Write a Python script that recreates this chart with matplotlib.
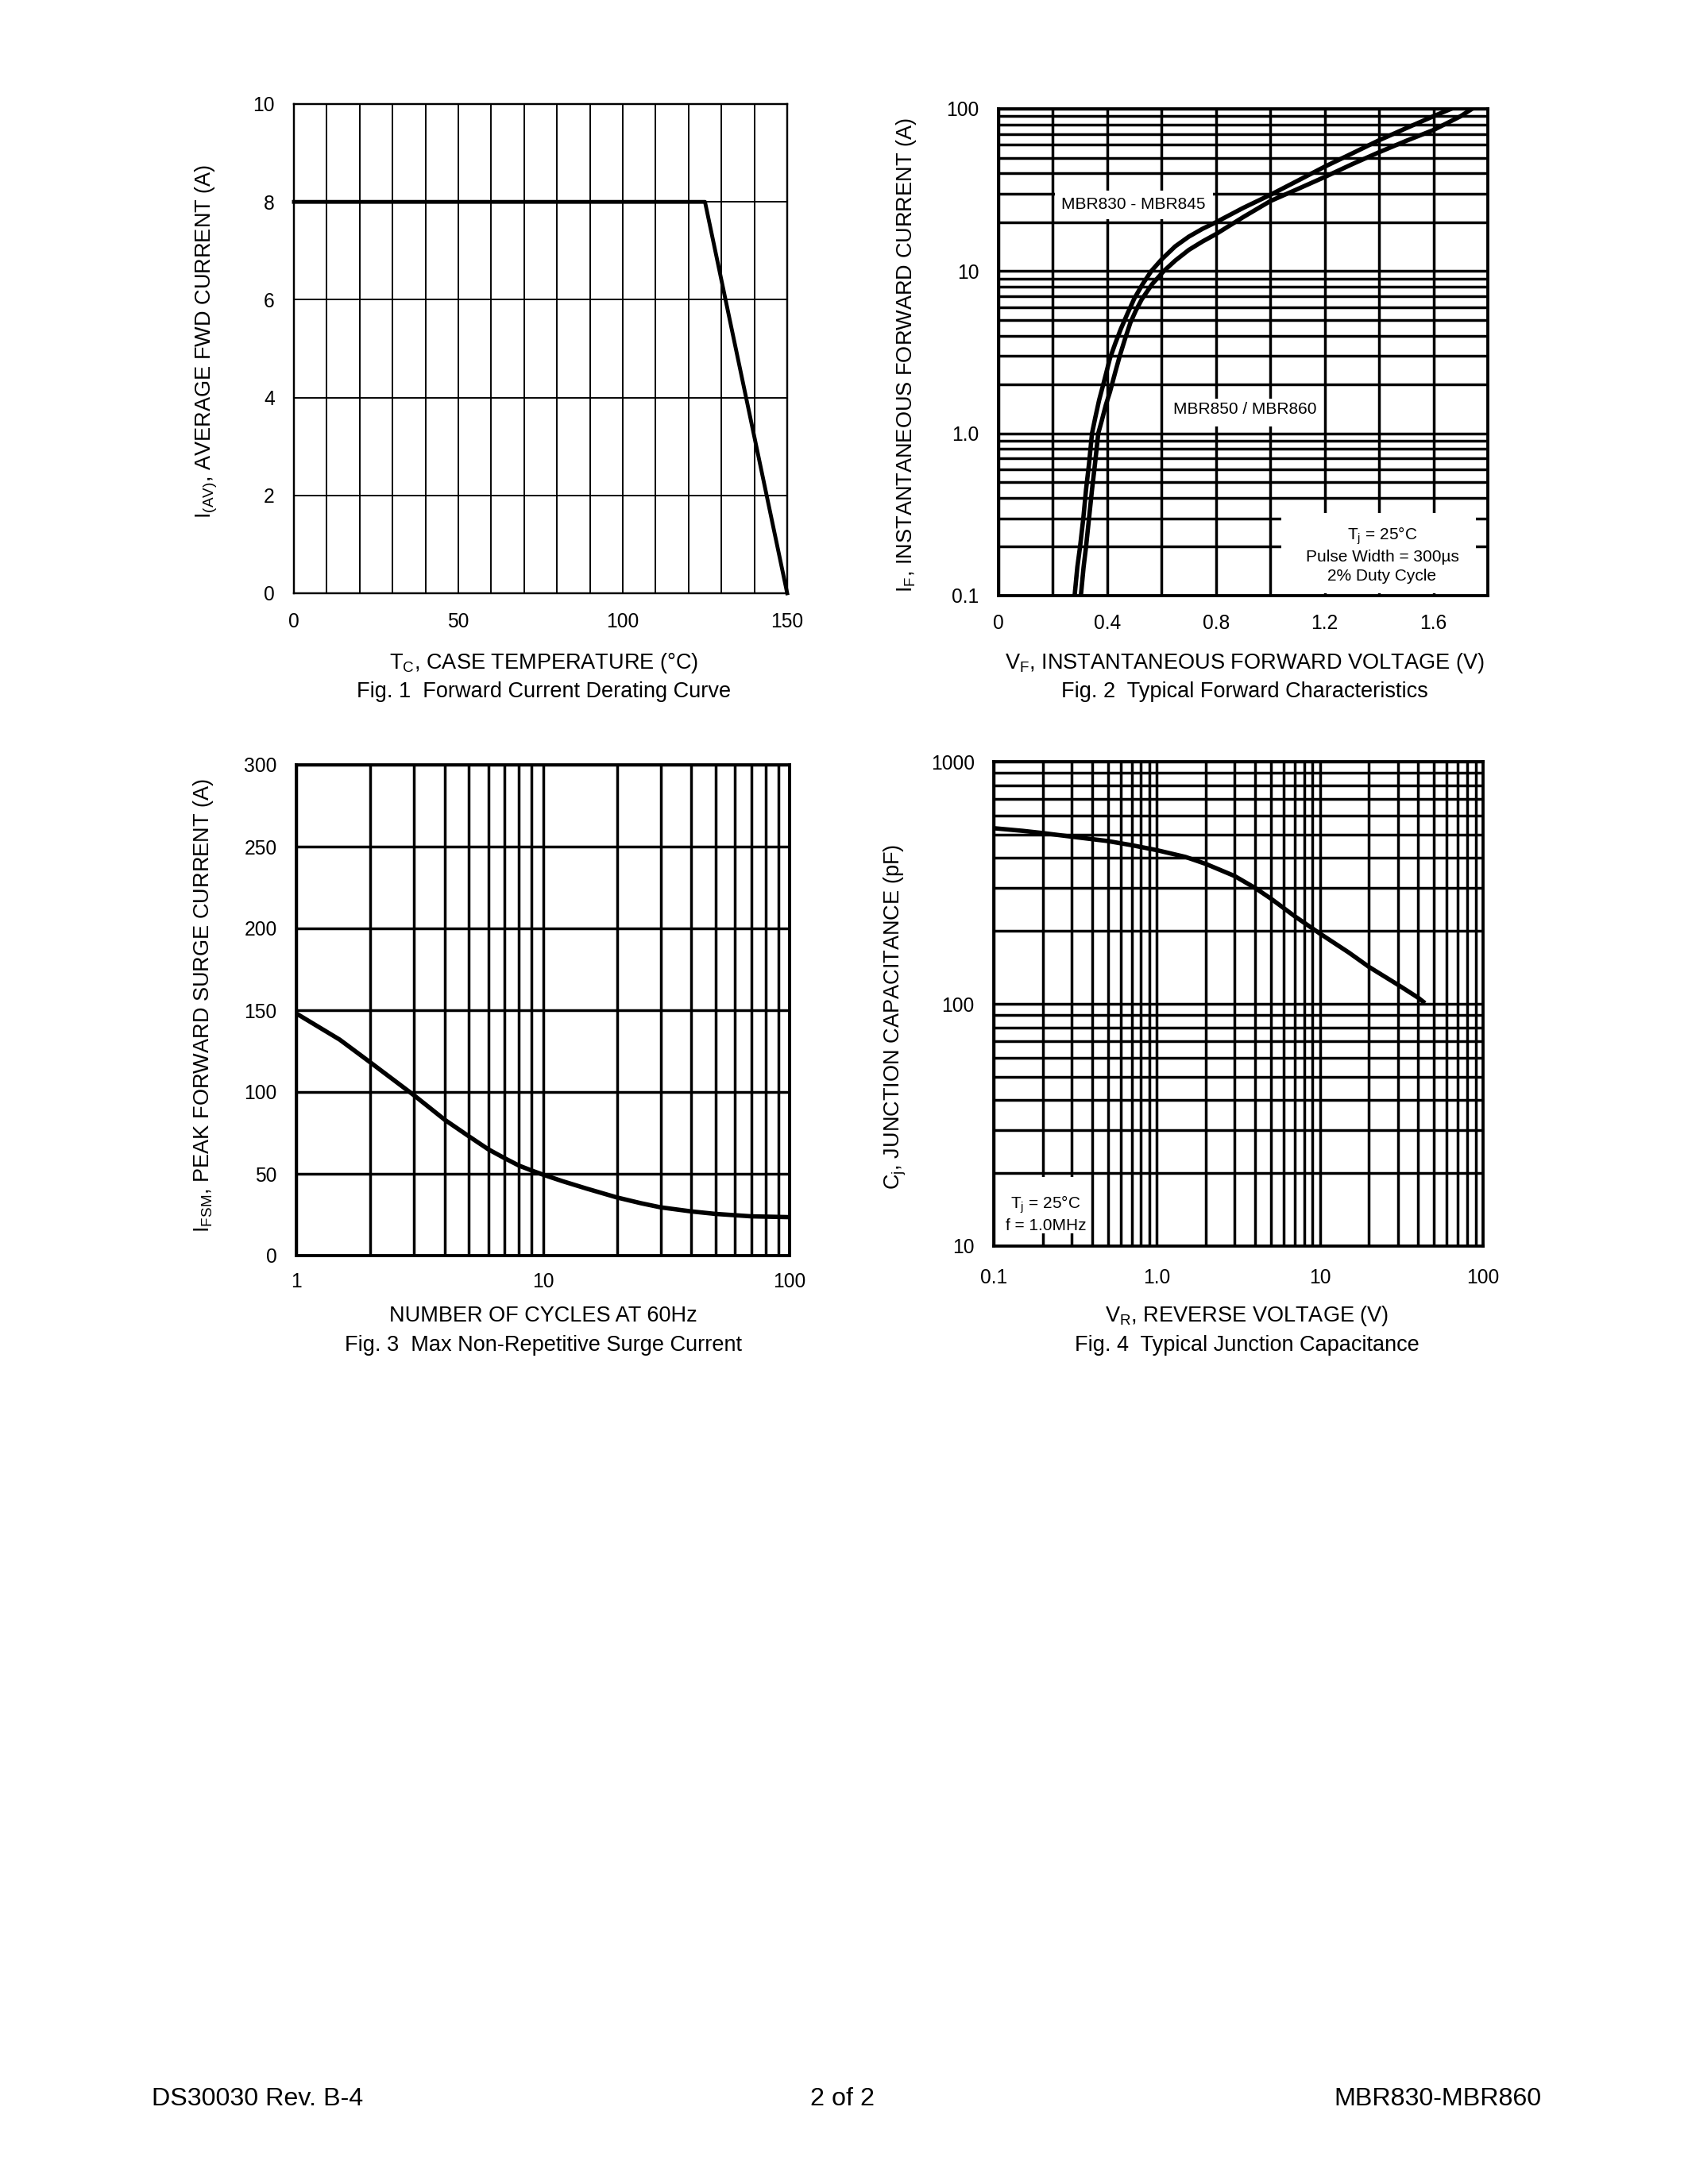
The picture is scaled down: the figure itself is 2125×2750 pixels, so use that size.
import matplotlib
matplotlib.use("Agg")
import matplotlib.pyplot as plt
from matplotlib.ticker import MultipleLocator, LogLocator, NullFormatter
from matplotlib.patches import Rectangle

plt.rcParams['font.family'] = ['Liberation Sans', 'DejaVu Sans']
plt.rcParams['mathtext.fontset'] = 'custom'
plt.rcParams['mathtext.rm'] = 'Liberation Sans'
plt.rcParams['mathtext.it'] = 'Liberation Sans:italic'
plt.rcParams['mathtext.bf'] = 'Liberation Sans:bold'

# Fig 1 - derating curve
derate_temp = [0, 125, 150]
derate_current = [8, 8, 0]

# Fig 2 - forward characteristics (V, A)
vf_830 = [0.280, 0.290, 0.300, 0.312, 0.322, 0.333, 0.344, 0.356, 0.370, 0.387,
          0.410, 0.430, 0.450, 0.475, 0.500, 0.530, 0.562, 0.600, 0.650, 0.700,
          0.750, 0.800, 0.900, 1.000, 1.100, 1.200, 1.300, 1.400, 1.500, 1.600, 1.665]
if_830 = [0.10, 0.15, 0.20, 0.30, 0.45, 0.65, 1.0, 1.25, 1.6, 2.05,
          2.9, 3.6, 4.4, 5.5, 6.8, 8.3, 10, 11.8, 14.2, 16.3,
          18.2, 20, 24.5, 29.5, 36, 44, 53, 64, 76, 90, 100]
vf_850 = [0.303, 0.313, 0.322, 0.333, 0.344, 0.355, 0.367, 0.380, 0.395, 0.410,
          0.430, 0.446, 0.465, 0.485, 0.505, 0.527, 0.565, 0.608, 0.650, 0.700,
          0.750, 0.800, 0.900, 1.000, 1.100, 1.200, 1.300, 1.400, 1.500, 1.600,
          1.700, 1.742]
if_850 = [0.10, 0.15, 0.20, 0.30, 0.45, 0.65, 1.0, 1.2, 1.5, 1.8,
          2.4, 3.0, 3.8, 4.8, 5.7, 6.7, 8.3, 10, 11.6, 13.5,
          15.2, 16.9, 21.5, 27, 32, 38, 45.5, 54, 63.5, 74,
          90, 100]

# Fig 3 - surge current
cycles = [1, 1.5, 2, 2.5, 3, 4, 5, 6, 7, 8, 9, 10, 12, 15, 20, 25, 30, 40, 50, 70, 100]
surge = [148, 132, 118, 107, 98, 83, 73, 65, 59.5, 55, 52, 49.5, 45.5, 41, 35.5, 32,
         29.5, 27, 25.5, 24, 23.5]

# Fig 4 - junction capacitance
vr = [0.1, 0.15, 0.2, 0.3, 0.5, 0.7, 1.0, 1.5, 2, 3, 4, 5, 7, 10, 15, 20, 30, 40, 43]
cj = [531, 518, 507, 490, 470, 452, 431, 404, 378, 337, 301, 272, 230, 195, 163, 142,
      120, 106, 102]

W, H = 2125, 2750
fig = plt.figure(figsize=(8.5, 11), dpi=250)


def add_ax(l, t, r, b):
    return fig.add_axes([l / W, 1 - b / H, (r - l) / W, (b - t) / H])


def ftext(x, y, s, **kw):
    kw.setdefault('ha', 'center')
    kw.setdefault('va', 'center')
    kw.setdefault('fontsize', 7.8)
    fig.text(x / W, 1 - y / H, s, **kw)


def style(ax, grid_lw, frame_lw, xpad, ypad):
    ax.grid(which='both', color='black', lw=grid_lw)
    ax.tick_params(which='both', length=0, labelsize=7.1)
    ax.tick_params(axis='x', pad=xpad)
    ax.tick_params(axis='y', pad=ypad)
    for sp in ax.spines.values():
        sp.set_linewidth(frame_lw)


# ---- Fig 1
ax1 = add_ax(370, 131, 991, 747)
ax1.plot(derate_temp, derate_current, color='black', lw=1.4, zorder=3, clip_on=False)
ax1.set_xlim(0, 150)
ax1.set_ylim(0, 10)
ax1.set_xticks([0, 50, 100, 150])
ax1.xaxis.set_minor_locator(MultipleLocator(10))
ax1.set_yticks([0, 2, 4, 6, 8, 10])
style(ax1, 0.55, 0.7, 7, 7)

ftext(685, 835, r'T$_{\mathrm{C}}$, CASE TEMPERATURE (°C)')
ftext(685, 871, 'Fig. 1  Forward Current Derating Curve')
ftext(260, 430, r'I$_{\mathrm{(AV)}}$, AVERAGE FWD CURRENT (A)', rotation=90)

# ---- Fig 2
ax2 = add_ax(1257, 137, 1873, 750)
ax2.set_yscale('log')
ax2.plot(vf_830, if_830, color='black', lw=1.6, zorder=3)
ax2.plot(vf_850, if_850, color='black', lw=1.6, zorder=3)
ax2.set_xlim(0, 1.8)
ax2.set_ylim(0.1, 100)
ax2.set_xticks([0, 0.4, 0.8, 1.2, 1.6], ['0', '0.4', '0.8', '1.2', '1.6'])
ax2.xaxis.set_minor_locator(MultipleLocator(0.2))
ax2.set_yticks([0.1, 1, 10, 100], ['0.1', '1.0', '10', '100'])
ax2.yaxis.set_minor_locator(LogLocator(subs=range(2, 10), numticks=20))
ax2.yaxis.set_minor_formatter(NullFormatter())
style(ax2, 1.0, 1.1, 6.5, 7)

ax2.add_patch(Rectangle((0.207, 20.9), 0.583, 10.5, facecolor='white', edgecolor='none', zorder=2))
ax2.text(0.497, 25.7, 'MBR830 - MBR845', ha='center', va='center', fontsize=6, zorder=4)
ax2.add_patch(Rectangle((0.613, 1.107), 0.583, 0.533, facecolor='white', edgecolor='none', zorder=2))
ax2.text(0.906, 1.40, 'MBR850 / MBR860', ha='center', va='center', fontsize=6, zorder=4)
ax2.add_patch(Rectangle((0.578, 0.005), 0.398, 0.165, transform=ax2.transAxes,
                        facecolor='white', edgecolor='none', zorder=2))
ax2.text(0.784, 0.085, 'T$_{\\mathrm{j}}$ = 25°C\nPulse Width = 300µs\n2% Duty Cycle',
         transform=ax2.transAxes, ha='center', va='center', fontsize=6,
         linespacing=1.3, zorder=4)

ftext(1567, 835, r'V$_{\mathrm{F}}$, INSTANTANEOUS FORWARD VOLTAGE (V)')
ftext(1567, 871, 'Fig. 2  Typical Forward Characteristics')
ftext(1141, 447, r'I$_{\mathrm{F}}$, INSTANTANEOUS FORWARD CURRENT (A)', rotation=90)

# ---- Fig 3
ax3 = add_ax(373, 963, 994, 1581)
ax3.set_xscale('log')
ax3.plot(cycles, surge, color='black', lw=1.6, zorder=3)
ax3.set_xlim(1, 100)
ax3.set_ylim(0, 300)
ax3.set_xticks([1, 10, 100], ['1', '10', '100'])
ax3.xaxis.set_minor_locator(LogLocator(subs=range(2, 10), numticks=20))
ax3.xaxis.set_minor_formatter(NullFormatter())
ax3.set_yticks([0, 50, 100, 150, 200, 250, 300])
style(ax3, 1.0, 1.1, 6, 7)

ftext(684, 1657, 'NUMBER OF CYCLES AT 60Hz')
ftext(684, 1694, 'Fig. 3  Max Non-Repetitive Surge Current')
ftext(256, 1266, r'I$_{\mathrm{FSM}}$, PEAK FORWARD SURGE CURRENT (A)', rotation=90)

# ---- Fig 4
ax4 = add_ax(1251, 959, 1867, 1569)
ax4.set_xscale('log')
ax4.set_yscale('log')
ax4.plot(vr, cj, color='black', lw=1.6, zorder=3)
ax4.set_xlim(0.1, 100)
ax4.set_ylim(10, 1000)
ax4.set_xticks([0.1, 1, 10, 100], ['0.1', '1.0', '10', '100'])
ax4.set_yticks([10, 100, 1000], ['10', '100', '1000'])
for axis in (ax4.xaxis, ax4.yaxis):
    axis.set_minor_locator(LogLocator(subs=range(2, 10), numticks=20))
    axis.set_minor_formatter(NullFormatter())
style(ax4, 1.0, 1.1, 8, 7)

ax4.add_patch(Rectangle((0.014, 0.026), 0.182, 0.117, transform=ax4.transAxes,
                        facecolor='white', edgecolor='none', zorder=2))
ax4.text(0.106, 0.067, 'T$_{\\mathrm{j}}$ = 25°C\nf = 1.0MHz', transform=ax4.transAxes,
         ha='center', va='center', fontsize=6, linespacing=1.3, zorder=4)

ftext(1570, 1657, r'V$_{\mathrm{R}}$, REVERSE VOLTAGE (V)')
ftext(1570, 1694, 'Fig. 4  Typical Junction Capacitance')
ftext(1127, 1280, r'C$_{\mathrm{j}}$, JUNCTION CAPACITANCE (pF)', rotation=90)

# ---- footer
ftext(191, 2643, 'DS30030 Rev. B-4', ha='left', fontsize=9.3)
ftext(1061, 2643, '2 of 2', fontsize=9.3)
ftext(1940, 2643, 'MBR830-MBR860', ha='right', fontsize=9.3)

fig.savefig('out.png', dpi=250, facecolor='white')
